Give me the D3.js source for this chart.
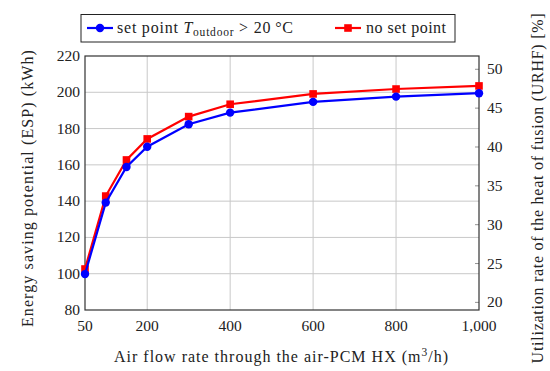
<!DOCTYPE html>
<html>
<head>
<meta charset="utf-8">
<script src="https://cdn.jsdelivr.net/npm/d3@7"></script>
<style>
  body { margin: 0; background: #fff; }
</style>
</head>
<body>
<svg id="chart" width="550" height="371"></svg>
<script>
// air flow rate (m3/h)
const flowRates = [50, 100, 150, 200, 300, 400, 600, 800, 1000];
// energy saving potential (kWh)
const espSetPoint = [99.8, 139.2, 158.8, 170.0, 182.4, 188.8, 194.7, 197.6, 199.5];
const espNoSetPoint = [102.6, 142.8, 162.7, 174.3, 186.6, 193.4, 199.1, 201.8, 203.5];

const xTicks = [50, 200, 400, 600, 800, 1000];
const yTicks = [80, 100, 120, 140, 160, 180, 200, 220];
const y2Ticks = [20, 25, 30, 35, 40, 45, 50];

const svg = d3.select("#chart");
const plot = { left: 85, right: 479, top: 56, bottom: 310 };
const textColor = "#222";
const serif = '"Liberation Serif"';

const x = d3.scaleLinear().domain([50, 1000]).range([plot.left, plot.right]);
const y = d3.scaleLinear().domain([80, 220]).range([plot.bottom, plot.top]);
// URHF axis is just a rescaled ESP axis
const y2 = d3.scaleLinear().domain([19.02, 51.71]).range([plot.bottom, plot.top]);

// the LaTeX font runs wider than Times, so spread the letters to the same width
function fitWidth(sel, target) {
  const node = sel.node();
  const len = node.getComputedTextLength();
  const n = node.textContent.length;
  sel.style("letter-spacing", ((target - len) / (n - 1)) + "px");
}

function label(parent, size) {
  return parent.append("text")
    .style("font-family", serif)
    .attr("font-size", size)
    .attr("fill", textColor);
}

// grid
const grid = svg.append("g").attr("stroke", "#c8c8c8").attr("stroke-width", 1);
grid.selectAll(".gx")
  .data(xTicks.filter(d => d > 50 && d < 1000))
  .enter().append("line")
    .attr("x1", d => x(d)).attr("x2", d => x(d))
    .attr("y1", plot.top).attr("y2", plot.bottom);
grid.selectAll(".gy")
  .data(yTicks.filter(d => d > 80 && d < 220))
  .enter().append("line")
    .attr("x1", plot.left).attr("x2", plot.right)
    .attr("y1", d => y(d)).attr("y2", d => y(d));

// right axis ticks (inside)
svg.append("g").selectAll("line")
  .data(y2Ticks)
  .enter().append("line")
    .attr("x1", plot.right - 4).attr("x2", plot.right)
    .attr("y1", d => y2(d)).attr("y2", d => y2(d))
    .attr("stroke", "#777").attr("stroke-width", 0.8);

// frame
svg.append("rect")
  .attr("x", plot.left).attr("y", plot.top)
  .attr("width", plot.right - plot.left).attr("height", plot.bottom - plot.top)
  .attr("fill", "none").attr("stroke", "#333").attr("stroke-width", 1.2);

// tick labels
const fmt = d3.format(",");
const tickG = svg.append("g");
tickG.selectAll(".xt")
  .data(xTicks)
  .enter().append("text")
    .style("font-family", serif).attr("font-size", 15.5).attr("fill", textColor)
    .attr("x", d => x(d)).attr("y", 331)
    .attr("text-anchor", "middle")
    .text(d => fmt(d));
tickG.selectAll(".yt")
  .data(yTicks)
  .enter().append("text")
    .style("font-family", serif).attr("font-size", 15.5).attr("fill", textColor)
    .attr("x", 80).attr("y", d => y(d) + 5)
    .attr("text-anchor", "end")
    .text(d => d);
tickG.selectAll(".y2t")
  .data(y2Ticks)
  .enter().append("text")
    .style("font-family", serif).attr("font-size", 15.5).attr("fill", textColor)
    .attr("x", 487).attr("y", d => y2(d) + 5)
    .attr("text-anchor", "start")
    .text(d => d);

// axis titles
const xTitle = label(svg, 16)
  .attr("x", 114).attr("y", 362);
xTitle.append("tspan").text("Air flow rate through the air-PCM HX (m");
xTitle.append("tspan").attr("font-size", 11.5).attr("dy", -6).text("3");
xTitle.append("tspan").attr("dy", 6).text("/h)");
fitWidth(xTitle, 334);

const yTitle = label(svg, 16)
  .attr("transform", "translate(33,188) rotate(-90)")
  .attr("text-anchor", "middle")
  .text("Energy saving potential (ESP) (kWh)");
fitWidth(yTitle, 277);

const y2Title = label(svg, 16)
  .attr("transform", "translate(543,188) rotate(-90)")
  .attr("text-anchor", "middle")
  .text("Utilization rate of the heat of fusion (URHF) [%]");
fitWidth(y2Title, 350);

// series
const line = d3.line().x((d, i) => x(flowRates[i])).y(d => y(d));

svg.append("path")
  .datum(espNoSetPoint)
  .attr("d", line)
  .attr("fill", "none").attr("stroke", "#ff0000").attr("stroke-width", 2.2);
svg.append("g").selectAll("rect")
  .data(espNoSetPoint)
  .enter().append("rect")
    .attr("x", (d, i) => x(flowRates[i]) - 3.8)
    .attr("y", d => y(d) - 3.8)
    .attr("width", 7.6).attr("height", 7.6)
    .attr("fill", "#ff0000");

svg.append("path")
  .datum(espSetPoint)
  .attr("d", line)
  .attr("fill", "none").attr("stroke", "#0000ff").attr("stroke-width", 2.2);
svg.append("g").selectAll("circle")
  .data(espSetPoint)
  .enter().append("circle")
    .attr("cx", (d, i) => x(flowRates[i]))
    .attr("cy", d => y(d))
    .attr("r", 4.2)
    .attr("fill", "#0000ff");

// legend
const legend = svg.append("g");
legend.append("rect")
  .attr("x", 81).attr("y", 14.5).attr("width", 374).attr("height", 27.5)
  .attr("fill", "#fff").attr("stroke", "#222").attr("stroke-width", 1);

legend.append("line").attr("x1", 87).attr("x2", 113).attr("y1", 28).attr("y2", 28)
  .attr("stroke", "#0000ff").attr("stroke-width", 2.2);
legend.append("circle").attr("cx", 100).attr("cy", 28).attr("r", 4.2).attr("fill", "#0000ff");
const lt = label(legend, 16).attr("x", 117).attr("y", 33);
lt.append("tspan").text("set point ");
lt.append("tspan").attr("font-style", "italic").text("T");
lt.append("tspan").attr("font-size", 11.5).attr("dy", 3).text("outdoor");
lt.append("tspan").attr("dy", -3).text(" > 20\u2009°C");
fitWidth(lt, 176);

legend.append("line").attr("x1", 335).attr("x2", 361).attr("y1", 28).attr("y2", 28)
  .attr("stroke", "#ff0000").attr("stroke-width", 2.2);
legend.append("rect").attr("x", 344.2).attr("y", 24.2).attr("width", 7.6).attr("height", 7.6)
  .attr("fill", "#ff0000");
const lt2 = label(legend, 16).attr("x", 366).attr("y", 33).text("no set point");
fitWidth(lt2, 80);
</script>
</body>
</html>
